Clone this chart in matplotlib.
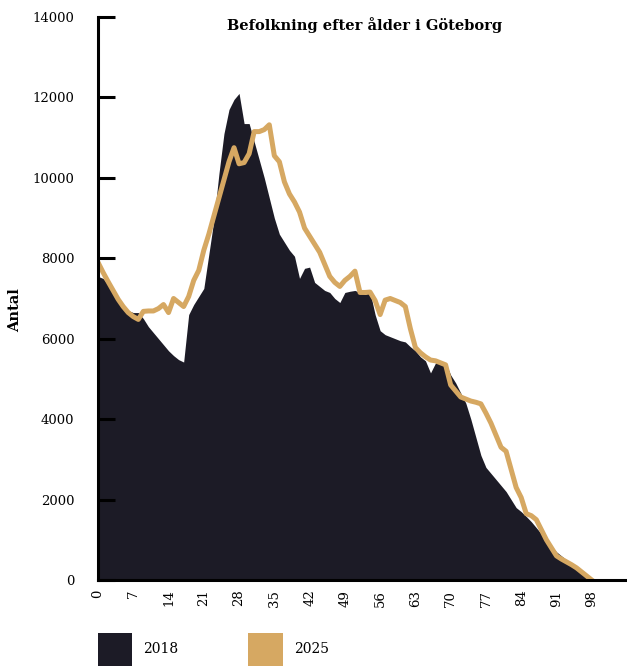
import matplotlib
matplotlib.use("Agg")
import matplotlib.pyplot as plt
from matplotlib.patches import Patch
import numpy as np

ages = list(range(0, 99))
pop_2018 = [7550, 7500, 7350, 7150, 6950, 6800, 6700, 6650, 6650, 6500,
            6300, 6150, 6000, 5850, 5700, 5580, 5480, 5420, 6600, 6850,
            7050, 7250, 8100, 8950, 10100, 11100, 11700, 11950, 12100, 11350,
            11350, 10900, 10450, 10000, 9500, 9000, 8600, 8400, 8200, 8050,
            7500, 7750, 7780, 7400, 7300, 7200, 7150, 7000, 6900, 7150,
            7180, 7200, 7150, 7100, 7160, 6600, 6200, 6100, 6050, 6000,
            5950, 5920, 5800, 5700, 5550, 5450, 5150, 5400, 5400, 5400,
            5100, 4900, 4650, 4400, 4000, 3550, 3100, 2800, 2650, 2500,
            2350, 2200, 2000, 1800, 1700, 1580, 1450, 1300, 1150, 1000,
            850, 700, 600, 500, 400, 300, 220, 120, 30]
pop_2025 = [7900, 7650, 7420, 7200, 6980, 6800, 6650, 6550, 6480, 6680,
            6690, 6690, 6750, 6850, 6650, 7000, 6900, 6800, 7050, 7450,
            7700, 8200, 8600, 9050, 9500, 9950, 10400, 10750, 10350, 10380,
            10600, 11150, 11150, 11200, 11320, 10550, 10400, 9900, 9600, 9400,
            9150, 8750, 8550, 8350, 8150, 7850, 7550, 7400, 7300, 7450,
            7550, 7680, 7150, 7150, 7160, 6950, 6600, 6960, 7000, 6950,
            6900, 6800, 6250, 5780, 5650, 5550, 5470, 5450, 5400, 5350,
            4850, 4700, 4550, 4500, 4450, 4420, 4380, 4150, 3900, 3600,
            3300, 3200, 2750, 2300, 2050, 1650, 1600, 1500, 1250, 1000,
            800, 600, 520, 450, 380, 300, 200, 100, 0]
xticks = list(range(0, 99, 7))
yticks = list(range(0, 14001, 2000))
title = "Befolkning efter ålder i Göteborg"
ylabel = "Antal"
labels = ["2018", "2025"]

dark = "#1c1b26"
tan = "#d6a862"
plt.rcParams['font.family'] = ['DejaVu Serif']

fig = plt.figure(figsize=(6.27, 6.66), dpi=100)
ax = fig.add_axes([98/627, 1-580/666, 1-98/627, (580-17)/666])
ax.fill_between(ages, 0, pop_2018, color=dark, lw=0)
ax.plot(ages, pop_2025, color=tan, lw=3.6, solid_joinstyle='round')
ax.set_xlim(0, 105)
ax.set_ylim(0, 14000)
ax.set_xticks(xticks)
ax.set_xticklabels([str(t) for t in xticks], rotation=90, fontsize=9.5)
ax.set_yticks(yticks)
ax.set_yticklabels([str(t) for t in yticks], fontsize=9.5)
ax.tick_params(axis='x', length=0, pad=7)
ax.tick_params(axis='y', direction='in', length=12, width=2.2, pad=17)
ax.spines['top'].set_visible(False)
ax.spines['right'].set_visible(False)
ax.spines['left'].set_linewidth(2.2)
ax.spines['bottom'].set_linewidth(2.2)
ax.set_ylabel(ylabel, fontsize=10.5, fontweight='bold')
ax.yaxis.set_label_coords(-(98 - 22) / (627 - 98), 0.48)
fig.text(365/627, 1-25/666, title, ha='center', va='center', fontsize=10.5, fontweight='bold')

handles = [Patch(facecolor=dark, edgecolor='none'), Patch(facecolor=tan, edgecolor='none')]
fig.legend(handles, labels, loc='upper left', bbox_to_anchor=(92/627, 1-627/666),
           ncol=2, frameon=False, fontsize=10, handlelength=2.5, handleheight=3.3,
           handletextpad=0.8, columnspacing=5.0, borderaxespad=0)
fig.savefig("out.png", dpi=100)
